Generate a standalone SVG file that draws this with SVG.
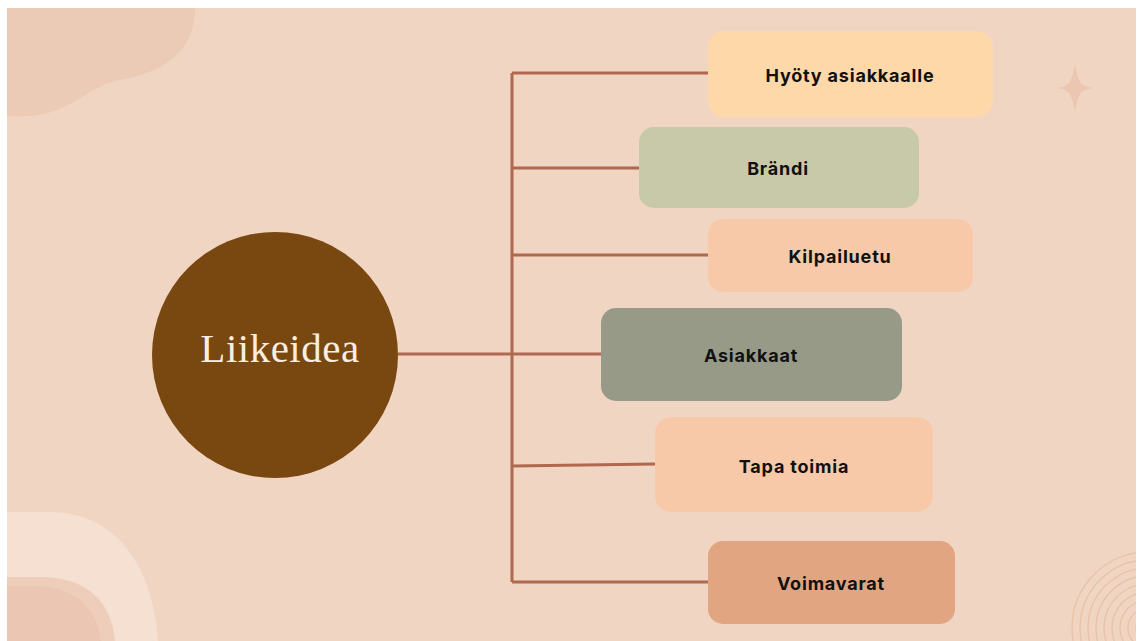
<svg xmlns="http://www.w3.org/2000/svg" width="1144" height="641" viewBox="0 0 1144 641">
<defs>
<style>
.lbl{font-family:Inter,"Noto Sans","DejaVu Sans",sans-serif;font-weight:700;font-size:18px;letter-spacing:0.8px;fill:#111;text-anchor:middle;dominant-baseline:central}
.conn{stroke:#B0694F;stroke-width:3;fill:none}
.arc{fill:none;stroke:#E7C2AA;stroke-width:1.3}
</style>
<clipPath id="bg"><rect x="7" y="8" width="1129" height="633"/></clipPath>
</defs>
<rect width="1144" height="641" fill="#ffffff"/>
<rect x="7" y="8" width="1129" height="633" fill="#F1D5C3"/>
<g id="decor" clip-path="url(#bg)">
<path d="M7,8 H195 C196,45 170,72 120,80 C95,85 85,98 60,109 C40,117 20,117 7,116 Z" fill="#ECCBB6"/>
<path d="M7,512 H50 C112,512 152,560 158,641 H7 Z" fill="#F5E0D1"/>
<path d="M7,577 H40 C86,577 111,600 115,641 H7 Z" fill="#EECEBB"/>
<path d="M7,586 H35 C76,586 98,610 101,641 H7 Z" fill="#EBC7B3"/>
<path d="M1075,64 C1078,82 1080,86 1093,88 C1080,90 1078,94 1075,112 C1072,94 1070,90 1057,88 C1070,86 1072,82 1075,64 Z" fill="#EBC6B0"/>
<g class="arc">
<circle cx="1148" cy="628" r="12"/><circle cx="1148" cy="628" r="20"/><circle cx="1148" cy="628" r="28"/>
<circle cx="1148" cy="628" r="36"/><circle cx="1148" cy="628" r="44"/><circle cx="1148" cy="628" r="52"/>
<circle cx="1148" cy="628" r="60"/><circle cx="1148" cy="628" r="68"/><circle cx="1148" cy="628" r="76"/>
</g>
</g>
<g id="connectors" class="conn">
<path d="M398,354 H512"/>
<path d="M512,73 V582"/>
<path d="M512,73 H708"/>
<path d="M512,168 H639"/>
<path d="M512,255 H708"/>
<path d="M512,354 H601"/>
<path d="M512,466 L655,464"/>
<path d="M512,582 H708"/>
</g>
<g id="liikeidea">
<circle cx="275" cy="355" r="123" fill="#784810"/>
<text x="280" y="362" font-family="'Liberation Serif',serif" font-size="41" fill="#F8EEE2" text-anchor="middle" letter-spacing="0.5">Liikeidea</text>
</g>
<g id="hyoty"><rect x="708" y="31" width="285" height="86" rx="16" fill="#FFD8AA"/><text class="lbl" x="850" y="75">Hyöty asiakkaalle</text></g>
<g id="brandi"><rect x="639" y="127" width="280" height="81" rx="15" fill="#C8C9A8"/><text class="lbl" x="778" y="168">Brändi</text></g>
<g id="kilpailuetu"><rect x="708" y="219" width="265" height="73" rx="15" fill="#F8C9A9"/><text class="lbl" x="840" y="256">Kilpailuetu</text></g>
<g id="asiakkaat"><rect x="601" y="308" width="301" height="93" rx="15" fill="#989A88"/><text class="lbl" x="751" y="355">Asiakkaat</text></g>
<g id="tapa"><rect x="655" y="417" width="278" height="95" rx="16" fill="#F8C9A9"/><text class="lbl" x="794" y="466">Tapa toimia</text></g>
<g id="voimavarat"><rect x="708" y="541" width="247" height="83" rx="15" fill="#E1A582"/><text class="lbl" x="831" y="583">Voimavarat</text></g>
</svg>
